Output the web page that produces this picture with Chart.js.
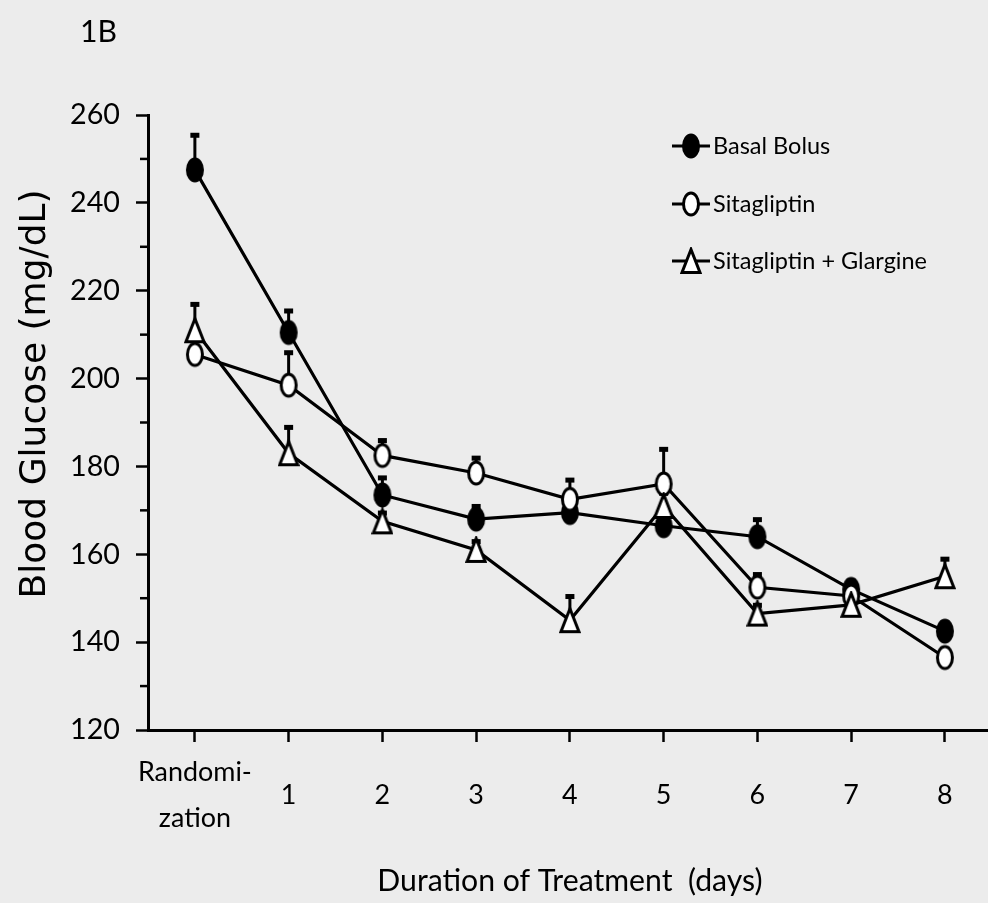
<!DOCTYPE html>
<html><head><meta charset="utf-8">
<script src="https://cdn.jsdelivr.net/npm/chart.js@4"></script>
<style>html,body{margin:0;padding:0;background:#ececec;overflow:hidden}
#wrap{position:relative;width:1004px;height:903px}</style></head>
<body><div id="wrap"><canvas id="c" width="1004" height="903"></canvas></div>
<script>
const categories = [['Randomi-','zation'],'1','2','3','4','5','6','7','8'];
const basalBolus      = [247.5, 210.5, 173.5, 168, 169.5, 166.5, 164, 152, 142.5];
const basalBolusErr   = [8, 5, 4, 3, 2, 2, 4, 2, 2];
const sitagliptin     = [205.5, 198.5, 182.5, 178.5, 172.5, 176, 152.5, 150.5, 136.5];
const sitagliptinErr  = [2, 7.5, 3.5, 3.5, 4.5, 8, 3, 2, 2];
const sitaGlargine    = [211, 183, 167.5, 161, 145, 171, 146.5, 148.5, 155];
const sitaGlargineErr = [6, 6, 2, 2, 5.5, 3, 2, 2, 4];
const yTicks = {min:120, max:260, step:10, labelStep:20};

const FONT = "Lato, 'Liberation Sans', sans-serif";
const TFONT = "'DejaVu Sans', sans-serif";

function fit(text, w, fam){
  const g=document.createElement('canvas').getContext('2d');
  g.font='100px '+fam;
  return Math.round(100*w/g.measureText(text).width*10)/10;
}
const yTickSize   = fit('260', 50, FONT);
const xTickSize   = fit('Randomi-', 114, FONT);
const xTitleSize  = fit('Duration of Treatment  (days)', 385, FONT);
const legendSize  = fit('Sitagliptin + Glargine', 214, FONT);
const panelSize   = fit('1B', 37, FONT);
const yTitleSize  = 36;

function ellipseImg(filled){
  const c=document.createElement('canvas'); c.width=20; c.height=28;
  const g=c.getContext('2d');
  g.beginPath(); g.ellipse(10,14,7.5,11,0,0,Math.PI*2);
  g.fillStyle=filled?'#000':'#fff'; g.fill();
  g.lineWidth=3; g.strokeStyle='#000'; g.stroke();
  return c;
}
function triImg(){
  const c=document.createElement('canvas'); c.width=22; c.height=28;
  const g=c.getContext('2d');
  g.beginPath(); g.moveTo(11,2.5); g.lineTo(2,25.5); g.lineTo(20,25.5); g.closePath();
  g.fillStyle='#fff'; g.fill(); g.lineWidth=3; g.strokeStyle='#000'; g.stroke();
  return c;
}
const imgFilled=ellipseImg(true), imgOpen=ellipseImg(false), imgTri=triImg();

const errorBars = {
  id:'errorBars',
  beforeDatasetsDraw(chart){
    const ctx=chart.ctx, y=chart.scales.y;
    chart.data.datasets.forEach((ds,di)=>{
      const meta=chart.getDatasetMeta(di);
      (ds.err||[]).forEach((e,i)=>{
        if(!e) return;
        const x=meta.data[i].x;
        const y0=y.getPixelForValue(ds.data[i]), y1=y.getPixelForValue(ds.data[i]+e);
        ctx.save(); ctx.strokeStyle='#000'; ctx.lineWidth=3;
        ctx.beginPath(); ctx.moveTo(x,y0); ctx.lineTo(x,y1); ctx.stroke();
        ctx.fillStyle='#000'; ctx.fillRect(x-4.5,y1-2,9,5);
        ctx.restore();
      });
    });
  }
};

const extras = {
  id:'extras',
  afterDraw(chart){
    const ctx=chart.ctx, ys=chart.scales.y, left=chart.chartArea.left;
    ctx.save();
    ctx.strokeStyle='#000'; ctx.lineWidth=2.5;
    for(let v=yTicks.min+yTicks.step; v<yTicks.max; v+=yTicks.labelStep){
      const py=ys.getPixelForValue(v);
      ctx.beginPath(); ctx.moveTo(left-8,py); ctx.lineTo(left,py); ctx.stroke();
    }
    ctx.fillStyle='#000'; ctx.textBaseline='middle'; ctx.textAlign='left';
    ctx.font=panelSize+"px "+FONT;
    ctx.fillText('1B',80,32);
    const x0=672, x1=710, xt=713;
    const rows=[146,204,261];
    ctx.font=legendSize+"px "+FONT;
    chart.data.datasets.forEach((ds,i)=>{
      const yy=rows[i];
      ctx.strokeStyle='#000'; ctx.lineWidth=3;
      ctx.beginPath(); ctx.moveTo(x0,yy); ctx.lineTo(x1,yy); ctx.stroke();
      const im=ds.pointStyle;
      ctx.drawImage(im,(x0+x1)/2-im.width/2,yy-im.height/2);
      ctx.fillText(ds.label,xt,yy);
    });
    ctx.restore();
  }
};

new Chart(document.getElementById('c'),{
  type:'line',
  data:{
    labels:categories,
    datasets:[
      {label:'Basal Bolus', data:basalBolus, err:basalBolusErr, pointStyle:imgFilled, order:3},
      {label:'Sitagliptin', data:sitagliptin, err:sitagliptinErr, pointStyle:imgOpen, order:2},
      {label:'Sitagliptin + Glargine', data:sitaGlargine, err:sitaGlargineErr, pointStyle:imgTri, order:1}
    ].map(d=>Object.assign({borderColor:'#000',backgroundColor:'#000',borderWidth:3.2,pointRadius:9,tension:0,fill:false},d))
  },
  options:{
    responsive:false, animation:false, devicePixelRatio:1,
    layout:{padding:{top:115,left:0,right:0,bottom:0}},
    plugins:{legend:{display:false},tooltip:{enabled:false},title:{display:false}},
    scales:{
      x:{type:'category', offset:true,
        grid:{display:true,drawOnChartArea:false,drawTicks:true,tickLength:12,tickWidth:2.5,tickColor:'#000',offset:false},
        border:{display:true,color:'#000',width:3},
        ticks:{color:'#000',font:{family:FONT,size:xTickSize,lineHeight:'46px'},padding:30,maxRotation:0,autoSkip:false,crossAlign:'center'},
        title:{display:true,text:'Duration of Treatment  (days)',color:'#000',font:{family:FONT,size:xTitleSize},padding:{top:0,bottom:4}},
        afterFit:s=>{s.height=173;}
      },
      y:{min:yTicks.min,max:yTicks.max,
        ticks:{stepSize:yTicks.step,callback:v=>v%yTicks.labelStep===0?String(v):'',color:'#000',font:{family:FONT,size:yTickSize},padding:16},
        grid:{drawOnChartArea:false,drawTicks:true,tickLength:12,tickWidth:2.5,
              tickColor:c=>(c.tick && c.tick.value%yTicks.labelStep===0)?'#000':'rgba(0,0,0,0)'},
        border:{display:true,color:'#000',width:3},
        title:{display:true,text:'     Blood Glucose (mg/dL)',color:'#000',font:{family:TFONT,size:yTitleSize},padding:{top:14}},
        afterFit:s=>{s.width=148;}
      }
    }
  },
  plugins:[errorBars,extras]
});
</script></body></html>
